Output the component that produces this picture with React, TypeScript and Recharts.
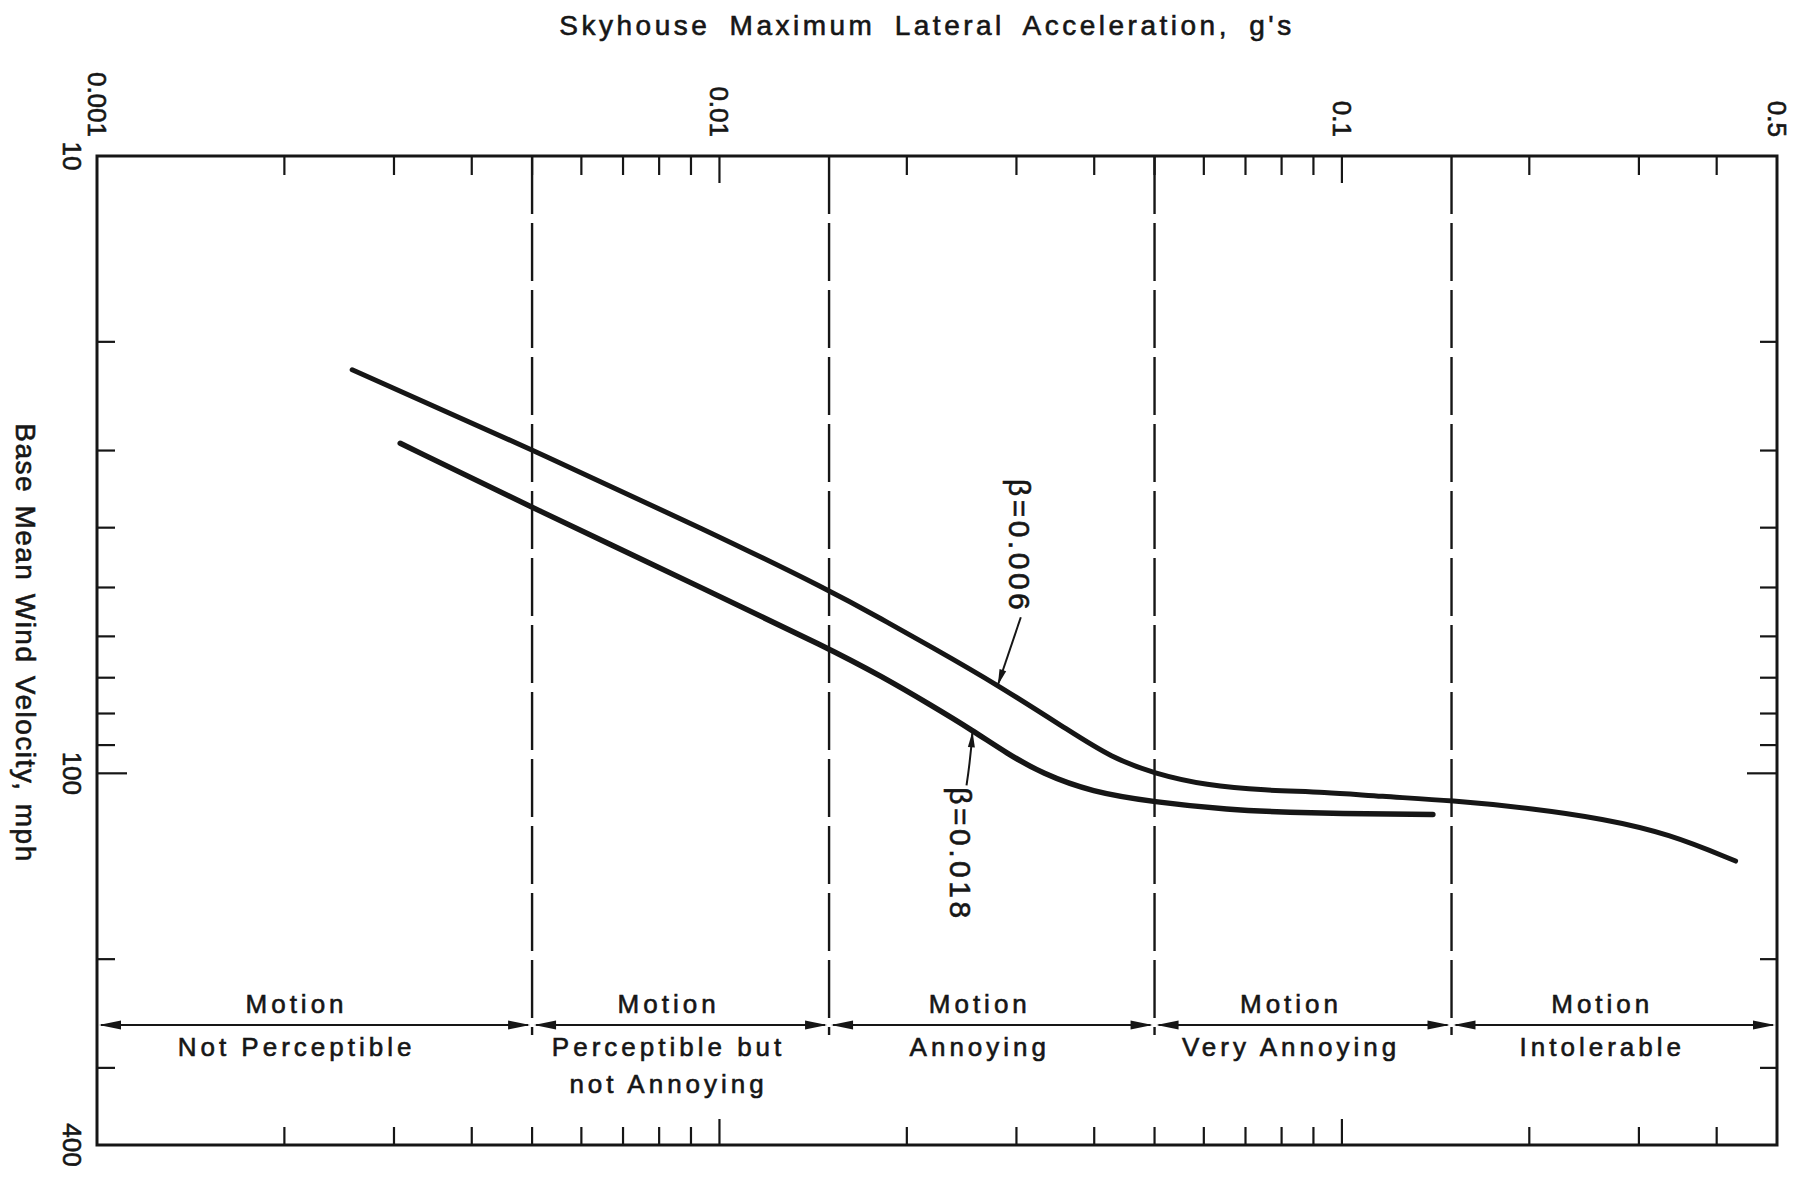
import { ComposedChart, Line, XAxis, YAxis, ReferenceArea, ReferenceDot } from 'recharts'

document.body.style.margin = '0'

const INK = '#161616'
const FONT = '"Liberation Sans", Arial, sans-serif'

// beta = 0.006 : acceleration (g) vs base mean wind velocity (mph)
const accel006 = [0.00257, 0.00497, 0.00978, 0.015, 0.0182, 0.0219, 0.0278, 0.0369, 0.0425, 0.0499, 0.0606, 0.075, 0.0941, 0.115, 0.15, 0.204, 0.262, 0.335, 0.429]
const wind006 = [22.2, 29.8, 40.9, 50.5, 56.2, 62.4, 71.6, 86.0, 94.1, 100.1, 104.6, 106.6, 107.2, 109.0, 110.6, 114.1, 118.4, 125.2, 138.7]

// beta = 0.018
const accel018 = [0.00307, 0.00497, 0.00978, 0.015, 0.0182, 0.0219, 0.0255, 0.029, 0.033, 0.0396, 0.0499, 0.0651, 0.0864, 0.14]
const wind018 = [29.2, 37.0, 51.1, 62.8, 69.6, 77.6, 85.2, 92.9, 100.1, 107.2, 111.3, 114.5, 116.0, 116.6]

const xTicks = [
  0.001, 0.002, 0.003, 0.004, 0.005, 0.006, 0.007, 0.008, 0.009,
  0.01, 0.02, 0.03, 0.04, 0.05, 0.06, 0.07, 0.08, 0.09,
  0.1, 0.2, 0.3, 0.4, 0.5,
]
const xLabels = ['0.001', '0.01', '0.1', '0.5']
const yTicks = [10, 20, 30, 40, 50, 60, 70, 80, 90, 100, 200, 300, 400]
const yLabels = ['10', '100', '400']

const zoneEdges = [0.001, 0.005, 0.015, 0.05, 0.15, 0.5]
const zoneHead = ['Motion', 'Motion', 'Motion', 'Motion', 'Motion']
const zoneText = [['Not Perceptible'], ['Perceptible but', 'not Annoying'], ['Annoying'], ['Very Annoying'], ['Intolerable']]

const betaLabels = ['β=0.006', 'β=0.018']
const betaAt = [
  { x: 0.0280, y: 72.0 },
  { x: 0.0255, y: 85.5 },
]

const X_DOMAIN = [0.001, 0.5]
const Y_DOMAIN = [10, 400]

const series006 = accel006.map((x, i) => ({ x, y: wind006[i] }))
const series018 = accel018.map((x, i) => ({ x, y: wind018[i] }))

const labelFor = (v: number, labels: string[]) => labels.find((l) => Math.abs(Number(l) - v) < 1e-9)
const isEdge = (v: number, d: number[]) => Math.abs(v - d[0]) < 1e-9 || Math.abs(v - d[1]) < 1e-9

// a light outline gives the lettering the weight of the drafted original
const textStyle = { fontFamily: FONT, fill: INK, stroke: INK, strokeWidth: 0.6 }

function TopTick({ x, y, payload }: any) {
  const v = payload.value
  const lab = labelFor(v, xLabels)
  const len = lab ? 27 : 19
  return (
    <g>
      {!isEdge(v, X_DOMAIN) && <line x1={x} y1={y} x2={x} y2={y + len} stroke={INK} strokeWidth={2.2} />}
      {lab && (
        <text x={x} y={y - 19} transform={`rotate(90 ${x} ${y - 19})`} textAnchor="end" dominantBaseline="central" fontSize={26} {...textStyle}>
          {lab}
        </text>
      )}
    </g>
  )
}

function BottomTick({ x, y, payload }: any) {
  const v = payload.value
  if (isEdge(v, X_DOMAIN)) return <g />
  const len = labelFor(v, xLabels) ? 26 : 18
  return <line x1={x} y1={y} x2={x} y2={y - len} stroke={INK} strokeWidth={2.2} />
}

function LeftTick({ x, y, payload }: any) {
  const v = payload.value
  const lab = labelFor(v, yLabels)
  const len = lab ? 30 : 18
  return (
    <g>
      {!isEdge(v, Y_DOMAIN) && <line x1={x} y1={y} x2={x + len} y2={y} stroke={INK} strokeWidth={2.2} />}
      {lab && (
        <text x={x - 25} y={y} transform={`rotate(90 ${x - 25} ${y})`} textAnchor="middle" dominantBaseline="central" fontSize={26} {...textStyle}>
          {lab}
        </text>
      )}
    </g>
  )
}

function RightTick({ x, y, payload }: any) {
  const v = payload.value
  if (isEdge(v, Y_DOMAIN)) return <g />
  const len = labelFor(v, yLabels) ? 30 : 17
  return <line x1={x} y1={y} x2={x - len} y2={y} stroke={INK} strokeWidth={2.2} />
}

// filled narrow arrowhead, tip at (tx, ty), pointing along (dx, dy)
function arrowHead(tx: number, ty: number, dx: number, dy: number, len = 22, half = 4.5) {
  const n = Math.hypot(dx, dy)
  const ux = dx / n
  const uy = dy / n
  const bx = tx - ux * len
  const by = ty - uy * len
  return `${tx},${ty} ${bx - uy * half},${by + ux * half} ${bx + uy * half},${by - ux * half}`
}

function zoneShape(i: number) {
  return ({ x, y, width, height }: any) => {
    const yArrow = y + height - 120
    const cx = x + width / 2 - (i === 0 ? 18 : 12)
    const lines = zoneText[i]
    return (
      <g>
        {i > 0 && (
          <line x1={x} y1={y} x2={x} y2={y + height - 110} stroke={INK} strokeWidth={2.4} strokeDasharray="58 9" />
        )}
        <line x1={x + 4} y1={yArrow} x2={x + width - 4} y2={yArrow} stroke={INK} strokeWidth={1.8} />
        <polygon points={arrowHead(x + 2, yArrow, -1, 0)} fill={INK} />
        <polygon points={arrowHead(x + width - 2, yArrow, 1, 0)} fill={INK} />
        <text x={cx} y={yArrow - 21} textAnchor="middle" dominantBaseline="central" fontSize={26} letterSpacing={4} {...textStyle}>
          {zoneHead[i]}
        </text>
        {lines.map((t, k) => (
          <text key={t} x={cx} y={yArrow + 22 + k * 37} textAnchor="middle" dominantBaseline="central" fontSize={26} letterSpacing={4} {...textStyle}>
            {t}
          </text>
        ))}
      </g>
    )
  }
}

function Beta006({ cx, cy }: any) {
  const sx = cx + 23
  const sy = cy - 68
  const qx = cx + 10
  const qy = cy - 30
  return (
    <g>
      <path d={`M ${sx} ${sy} Q ${qx} ${qy} ${cx} ${cy}`} fill="none" stroke={INK} strokeWidth={2} />
      <polygon points={arrowHead(cx, cy, cx - qx, cy - qy, 16, 3.5)} fill={INK} />
      <text x={cx + 22} y={cy - 72} transform={`rotate(90 ${cx + 22} ${cy - 72})`} textAnchor="end" dominantBaseline="central" fontSize={30} letterSpacing={3.5} {...textStyle}>
        {betaLabels[0]}
      </text>
    </g>
  )
}

function Beta018({ cx, cy }: any) {
  const sx = cx - 6
  const sy = cy + 54
  const qx = cx - 2
  const qy = cy + 28
  return (
    <g>
      <path d={`M ${sx} ${sy} Q ${qx} ${qy} ${cx} ${cy}`} fill="none" stroke={INK} strokeWidth={2} />
      <polygon points={arrowHead(cx, cy, cx - qx, cy - qy, 16, 3.5)} fill={INK} />
      <text x={cx - 12} y={cy + 56} transform={`rotate(90 ${cx - 12} ${cy + 56})`} textAnchor="start" dominantBaseline="central" fontSize={30} letterSpacing={3.5} {...textStyle}>
        {betaLabels[1]}
      </text>
    </g>
  )
}

const htmlText = { fontFamily: FONT, color: INK, WebkitTextStroke: `0.6px ${INK}`, whiteSpace: 'nowrap' as const }

export default function App() {
  return (
    <div style={{ position: 'relative', width: 1814, height: 1193, background: '#fff' }}>
      <div
        style={{
          ...htmlText, position: 'absolute', left: 927, top: 26, transform: 'translate(-50%, -50%)',
          fontSize: 28, letterSpacing: 3.5, wordSpacing: 8,
        }}
      >
        Skyhouse Maximum Lateral Acceleration, g's
      </div>
      <div
        style={{
          ...htmlText, position: 'absolute', left: 25, top: 643, transform: 'translate(-50%, -50%) rotate(90deg)',
          fontSize: 28, letterSpacing: 1.5, wordSpacing: 3,
        }}
      >
        Base Mean Wind Velocity, mph
      </div>
      <ComposedChart width={1814} height={1193} margin={{ top: 126, right: 7, bottom: 18, left: 67 }}>
        <XAxis xAxisId="top" orientation="top" type="number" dataKey="x" scale="log" domain={X_DOMAIN} allowDataOverflow
          ticks={xTicks} interval={0} height={30} axisLine={false} tickLine={false} tickSize={0} tickMargin={0} tick={<TopTick />} />
        <XAxis xAxisId="bottom" orientation="bottom" type="number" dataKey="x" scale="log" domain={X_DOMAIN} allowDataOverflow
          ticks={xTicks} interval={0} height={30} axisLine={false} tickLine={false} tickSize={0} tickMargin={0} tick={<BottomTick />} />
        <YAxis yAxisId="left" orientation="left" type="number" scale="log" domain={Y_DOMAIN} reversed allowDataOverflow
          ticks={yTicks} interval={0} width={30} axisLine={false} tickLine={false} tickSize={0} tickMargin={0} tick={<LeftTick />} />
        <YAxis yAxisId="right" orientation="right" type="number" scale="log" domain={Y_DOMAIN} reversed allowDataOverflow
          ticks={yTicks} interval={0} width={30} axisLine={false} tickLine={false} tickSize={0} tickMargin={0} tick={<RightTick />} />

        {zoneHead.map((_, i) => (
          <ReferenceArea key={i} xAxisId="top" yAxisId="left" x1={zoneEdges[i]} x2={zoneEdges[i + 1]} y1={Y_DOMAIN[0]} y2={Y_DOMAIN[1]}
            shape={zoneShape(i)} />
        ))}

        <Line xAxisId="top" yAxisId="left" data={series006} dataKey="y" type="basis" stroke={INK} strokeWidth={5}
          strokeLinecap="round" dot={false} activeDot={false} isAnimationActive={false} />
        <Line xAxisId="top" yAxisId="left" data={series018} dataKey="y" type="basis" stroke={INK} strokeWidth={5.5}
          strokeLinecap="round" dot={false} activeDot={false} isAnimationActive={false} />

        <ReferenceDot xAxisId="top" yAxisId="left" x={betaAt[0].x} y={betaAt[0].y} shape={<Beta006 />} />
        <ReferenceDot xAxisId="top" yAxisId="left" x={betaAt[1].x} y={betaAt[1].y} shape={<Beta018 />} />

        <ReferenceArea xAxisId="top" yAxisId="left" x1={X_DOMAIN[0]} x2={X_DOMAIN[1]} y1={Y_DOMAIN[0]} y2={Y_DOMAIN[1]}
          fill="none" fillOpacity={0} stroke={INK} strokeWidth={3} />
      </ComposedChart>
    </div>
  )
}
